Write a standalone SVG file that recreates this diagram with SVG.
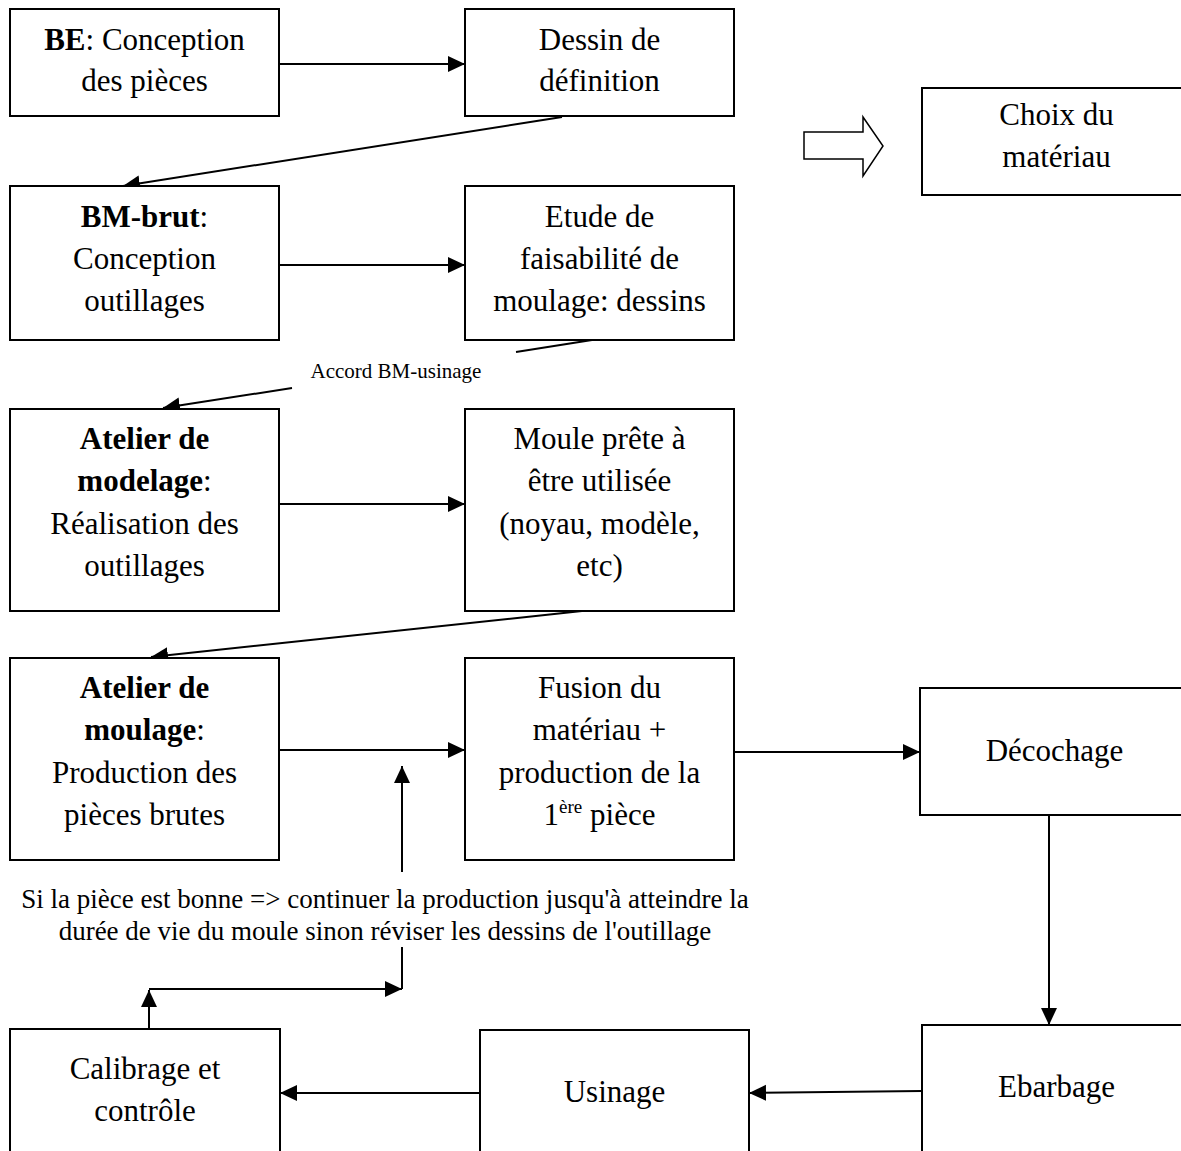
<svg xmlns="http://www.w3.org/2000/svg" width="1181" height="1151" viewBox="0 0 1181 1151">
<defs>
<style>
.box{fill:#fff;stroke:#000;stroke-width:2}
.t{font-family:"Liberation Serif","Times New Roman",serif;font-size:31px;fill:#000;text-anchor:middle}
.b{font-weight:bold}
.s{font-family:"Liberation Serif","Times New Roman",serif;font-size:21px;fill:#000;text-anchor:middle}
.m{font-family:"Liberation Serif","Times New Roman",serif;font-size:27px;fill:#000;text-anchor:middle}
.c{fill:none;stroke:#000;stroke-width:2}
.a{marker-end:url(#ah)}
</style>
<marker id="ah" markerUnits="userSpaceOnUse" markerWidth="20" markerHeight="18" refX="17" refY="8" orient="auto">
<path d="M0,0 L17,8 L0,16 z" fill="#000"/>
</marker>
</defs>
<rect width="1181" height="1151" fill="#fff"/>

<g id="connectors">
<line class="c a" x1="279" y1="64" x2="465" y2="64"/>
<line class="c a" x1="562" y1="117" x2="123" y2="186"/>
<line class="c a" x1="279" y1="265" x2="465" y2="265"/>
<line class="c" x1="592" y1="340" x2="516" y2="352"/>
<line class="c a" x1="292" y1="388" x2="163" y2="408"/>
<line class="c a" x1="279" y1="504" x2="465" y2="504"/>
<line class="c a" x1="582" y1="611" x2="151" y2="657"/>
<line class="c a" x1="279" y1="750" x2="465" y2="750"/>
<line class="c a" x1="734" y1="752" x2="920" y2="752"/>
<line class="c a" x1="402" y1="872" x2="402" y2="766"/>
<line class="c" x1="402" y1="947" x2="402" y2="989"/>
<line class="c a" x1="149" y1="1029" x2="149" y2="990"/>
<line class="c a" x1="149" y1="989" x2="402" y2="989"/>
<line class="c a" x1="1049" y1="815" x2="1049" y2="1025"/>
<line class="c a" x1="922" y1="1091" x2="749" y2="1093"/>
<line class="c a" x1="480" y1="1093" x2="280" y2="1093"/>
<polygon points="804,132 863,132 863,117 883,146 863,176 863,159 804,159" fill="#fff" stroke="#000" stroke-width="1.5"/>
<text class="s" x="396" y="378">Accord BM-usinage</text>
<text class="m" x="385" y="908">Si la pièce est bonne =&gt; continuer la production jusqu'à atteindre la</text>
<text class="m" x="385" y="940">durée de vie du moule sinon réviser les dessins de l'outillage</text>
</g>

<g id="be">
<rect class="box" x="10" y="9" width="269" height="107"/>
<text class="t" x="144.5" y="50"><tspan class="b">BE</tspan>: Conception</text>
<text class="t" x="144.5" y="91">des pièces</text>
</g>

<g id="dessin">
<rect class="box" x="465" y="9" width="269" height="107"/>
<text class="t" x="599.5" y="50">Dessin de</text>
<text class="t" x="599.5" y="91">définition</text>
</g>

<g id="choix">
<rect class="box" x="922" y="88" width="269" height="107"/>
<text class="t" x="1056.5" y="125">Choix du</text>
<text class="t" x="1056.5" y="167">matériau</text>
</g>

<g id="bmbrut">
<rect class="box" x="10" y="186" width="269" height="154"/>
<text class="t" x="144.5" y="227"><tspan class="b">BM-brut</tspan>:</text>
<text class="t" x="144.5" y="269">Conception</text>
<text class="t" x="144.5" y="311">outillages</text>
</g>

<g id="etude">
<rect class="box" x="465" y="186" width="269" height="154"/>
<text class="t" x="599.5" y="227">Etude de</text>
<text class="t" x="599.5" y="269">faisabilité de</text>
<text class="t" x="599.5" y="311">moulage: dessins</text>
</g>

<g id="modelage">
<rect class="box" x="10" y="409" width="269" height="202"/>
<text class="t b" x="144.5" y="449">Atelier de</text>
<text class="t" x="144.5" y="491"><tspan class="b">modelage</tspan>:</text>
<text class="t" x="144.5" y="534">Réalisation des</text>
<text class="t" x="144.5" y="576">outillages</text>
</g>

<g id="moule">
<rect class="box" x="465" y="409" width="269" height="202"/>
<text class="t" x="599.5" y="449">Moule prête à</text>
<text class="t" x="599.5" y="491">être utilisée</text>
<text class="t" x="599.5" y="534">(noyau, modèle,</text>
<text class="t" x="599.5" y="576">etc)</text>
</g>

<g id="moulage">
<rect class="box" x="10" y="658" width="269" height="202"/>
<text class="t b" x="144.5" y="698">Atelier de</text>
<text class="t" x="144.5" y="740"><tspan class="b">moulage</tspan>:</text>
<text class="t" x="144.5" y="783">Production des</text>
<text class="t" x="144.5" y="825">pièces brutes</text>
</g>

<g id="fusion">
<rect class="box" x="465" y="658" width="269" height="202"/>
<text class="t" x="599.5" y="698">Fusion du</text>
<text class="t" x="599.5" y="740">matériau +</text>
<text class="t" x="599.5" y="783">production de la</text>
<text class="t" x="599.5" y="825">1<tspan font-size="19" dy="-12">ère</tspan><tspan dy="12"> pièce</tspan></text>
</g>

<g id="decochage">
<rect class="box" x="920" y="688" width="269" height="127"/>
<text class="t" x="1054.5" y="761">Décochage</text>
</g>

<g id="ebarbage">
<rect class="box" x="922" y="1025" width="269" height="140"/>
<text class="t" x="1056.5" y="1097">Ebarbage</text>
</g>

<g id="usinage">
<rect class="box" x="480" y="1030" width="269" height="135"/>
<text class="t" x="614.5" y="1102">Usinage</text>
</g>

<g id="calibrage">
<rect class="box" x="10" y="1029" width="270" height="136"/>
<text class="t" x="145" y="1079">Calibrage et</text>
<text class="t" x="145" y="1121">contrôle</text>
</g>
</svg>
